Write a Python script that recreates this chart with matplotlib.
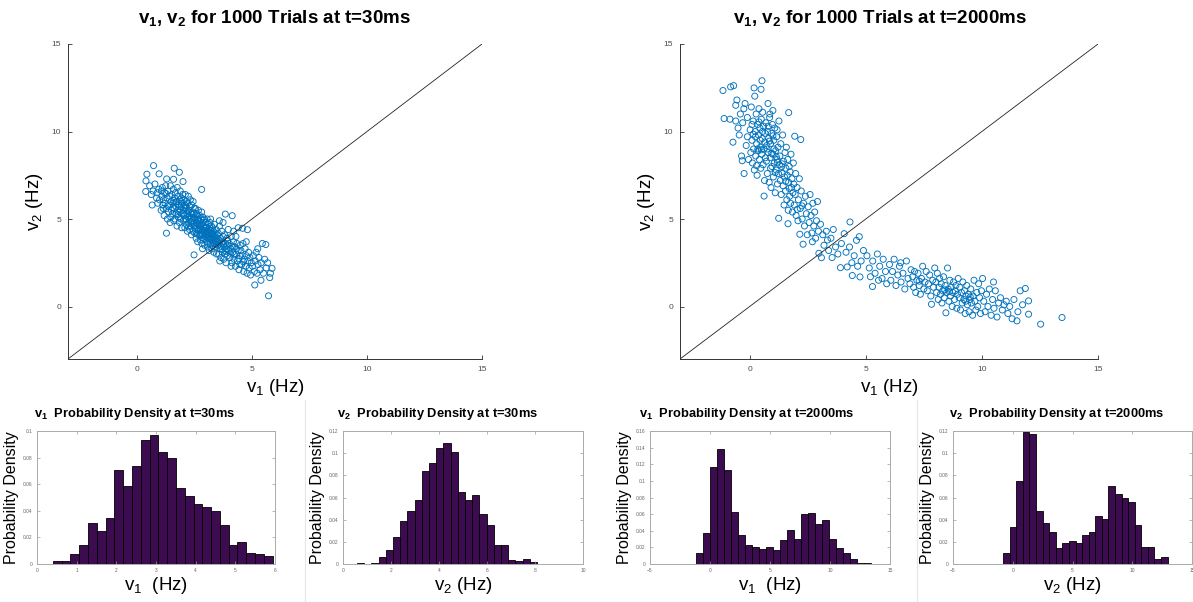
import matplotlib
matplotlib.use("Agg")
import matplotlib.pyplot as plt
import numpy as np
from matplotlib.lines import Line2D

plt.rcParams['font.family'] = ['Liberation Sans', 'DejaVu Sans']
plt.rcParams['mathtext.default'] = 'regular'

# ---------------- data ----------------
pts_30ms = [
    (0.72, 8.05), (0.43, 7.56), (0.39, 7.18), (0.38, 6.57), (0.96, 7.58), (1.62, 7.9), (1.84, 7.67),
    (1.59, 7.27), (1.29, 7.29), (2.0, 7.14), (2.81, 6.69), (1.28, 4.19), (2.48, 2.95),
    (0.55, 6.9), (0.62, 6.4), (0.7, 6.6), (0.78, 7.0), (0.85, 6.2), (0.9, 5.9), (0.95, 6.7), (0.98, 6.1),
    (0.66, 5.8), (0.88, 6.5),
    (1.05, 5.5), (1.08, 6.3), (1.1, 6.8), (1.12, 5.8), (1.15, 6.1), (1.18, 5.2), (1.2, 6.5), (1.22, 5.9),
    (1.25, 6.9), (1.27, 5.6), (1.3, 6.2), (1.32, 5.0), (1.35, 6.6), (1.37, 5.4), (1.4, 5.8), (1.42, 6.3),
    (1.45, 6.9), (1.47, 5.1), (1.48, 6.0), (1.5, 5.5), (1.14, 5.6), (1.33, 5.75), (1.44, 4.8), (1.26, 6.45),
    (1.06, 6.6),
    (1.52, 6.4), (1.54, 5.3), (1.56, 5.9), (1.58, 6.7), (1.6, 4.9), (1.62, 5.6), (1.63, 6.2), (1.65, 5.0),
    (1.67, 6.5), (1.69, 5.7), (1.7, 5.3), (1.72, 6.0), (1.74, 4.6), (1.75, 6.8), (1.77, 5.5), (1.79, 6.3),
    (1.8, 5.1), (1.82, 5.8), (1.84, 4.8), (1.85, 6.1), (1.87, 5.4), (1.88, 6.6), (1.9, 5.0), (1.91, 5.7),
    (1.93, 6.2), (1.94, 4.5), (1.96, 5.3), (1.97, 5.9), (1.99, 6.4), (1.55, 5.65), (1.68, 5.95), (1.78, 5.25),
    (1.86, 5.55), (1.92, 6.0), (1.6, 6.05),
    (2.01, 5.5), (2.02, 4.9), (2.04, 6.1), (2.05, 5.2), (2.07, 5.8), (2.08, 4.5), (2.1, 6.4), (2.11, 5.0),
    (2.13, 5.6), (2.14, 4.7), (2.16, 6.0), (2.17, 5.3), (2.19, 4.3), (2.2, 5.9), (2.22, 5.1), (2.23, 6.3),
    (2.25, 4.8), (2.26, 5.5), (2.28, 4.4), (2.29, 5.7), (2.31, 5.0), (2.32, 6.1), (2.34, 4.6), (2.35, 5.3),
    (2.37, 4.1), (2.38, 5.8), (2.4, 4.9), (2.41, 5.4), (2.43, 4.3), (2.44, 6.0), (2.46, 5.1), (2.47, 4.6),
    (2.49, 5.6), (2.03, 5.35), (2.09, 5.65), (2.15, 4.95), (2.21, 5.45), (2.27, 5.15), (2.33, 4.85),
    (2.39, 5.25), (2.45, 4.75), (2.12, 5.75), (2.24, 4.55), (2.36, 5.05), (2.48, 5.3),
    (2.51, 4.2), (2.52, 5.0), (2.54, 4.6), (2.55, 5.6), (2.57, 3.9), (2.58, 4.8), (2.6, 5.3), (2.61, 4.4),
    (2.63, 5.0), (2.64, 3.7), (2.66, 4.7), (2.67, 5.5), (2.69, 4.1), (2.7, 4.9), (2.72, 4.5), (2.73, 5.2),
    (2.75, 3.8), (2.76, 4.6), (2.78, 5.0), (2.79, 4.2), (2.81, 5.4), (2.82, 3.6), (2.84, 4.8), (2.85, 4.4),
    (2.87, 5.1), (2.88, 3.9), (2.9, 4.6), (2.91, 4.1), (2.93, 5.0), (2.94, 3.5), (2.96, 4.5), (2.97, 4.0),
    (2.99, 4.8), (2.53, 4.45), (2.59, 4.15), (2.62, 4.75), (2.68, 4.35), (2.71, 4.65), (2.74, 4.05),
    (2.77, 4.4), (2.8, 4.7), (2.83, 4.1), (2.86, 4.3), (2.89, 4.95), (2.92, 4.35), (2.95, 3.85), (2.98, 4.25),
    (2.65, 5.15), (2.56, 5.25), (2.85, 3.3),
    (3.01, 4.5), (3.02, 3.7), (3.04, 4.1), (3.05, 5.0), (3.07, 3.4), (3.08, 4.3), (3.1, 4.7), (3.11, 3.9),
    (3.13, 4.4), (3.14, 3.2), (3.16, 4.0), (3.17, 4.8), (3.19, 3.6), (3.2, 4.2), (3.22, 3.8), (3.23, 4.6),
    (3.25, 3.3), (3.26, 4.1), (3.28, 4.5), (3.29, 3.5), (3.31, 3.9), (3.32, 4.3), (3.34, 3.1), (3.35, 4.0),
    (3.37, 4.7), (3.38, 3.6), (3.4, 4.2), (3.41, 3.4), (3.43, 3.8), (3.44, 4.4), (3.46, 3.0), (3.47, 3.9),
    (3.49, 4.1), (3.03, 4.25), (3.06, 3.95), (3.09, 3.6), (3.12, 4.15), (3.15, 4.55), (3.18, 3.85),
    (3.21, 4.35), (3.24, 3.95), (3.27, 3.75), (3.3, 4.15), (3.33, 3.65), (3.36, 3.85), (3.39, 4.05),
    (3.42, 3.7), (3.45, 3.55), (3.48, 3.75), (3.2, 5.0),
    (3.51, 3.5), (3.53, 4.2), (3.55, 3.0), (3.57, 3.8), (3.59, 4.6), (3.61, 3.3), (3.63, 3.9), (3.65, 2.8),
    (3.67, 3.6), (3.69, 4.3), (3.71, 3.1), (3.73, 3.7), (3.75, 4.0), (3.77, 2.7), (3.79, 3.4), (3.81, 4.1),
    (3.83, 3.0), (3.85, 3.6), (3.87, 2.5), (3.89, 3.3), (3.91, 3.9), (3.93, 2.9), (3.95, 3.5), (3.97, 4.4),
    (3.99, 3.2), (3.54, 3.65), (3.62, 3.45), (3.7, 3.25), (3.78, 3.55), (3.86, 3.15), (3.94, 3.75),
    (3.6, 2.6), (3.84, 5.28), (3.74, 4.8), (3.58, 4.9),
    (4.01, 3.6), (4.04, 2.8), (4.07, 3.3), (4.1, 4.0), (4.13, 2.5), (4.16, 3.1), (4.19, 3.7), (4.22, 2.7),
    (4.25, 3.4), (4.28, 2.3), (4.31, 3.0), (4.34, 3.6), (4.37, 2.6), (4.4, 3.2), (4.43, 2.1), (4.46, 2.9),
    (4.49, 3.5), (4.14, 5.19), (4.4, 4.5), (4.2, 4.3), (4.05, 3.05), (4.15, 3.45), (4.24, 2.95), (4.33, 3.3),
    (4.42, 2.75), (4.3, 4.0), (4.09, 2.3), (4.47, 2.4),
    (4.52, 3.2), (4.55, 2.4), (4.58, 2.9), (4.61, 3.6), (4.64, 2.0), (4.67, 2.7), (4.7, 3.3), (4.73, 2.3),
    (4.76, 2.9), (4.79, 1.9), (4.82, 2.6), (4.85, 3.1), (4.88, 2.2), (4.91, 2.8), (4.94, 1.8), (4.97, 2.5),
    (4.59, 4.47), (4.8, 4.39), (4.63, 2.55), (4.75, 3.7),
    (5.02, 2.3), (5.06, 2.9), (5.1, 2.0), (5.14, 2.6), (5.18, 3.1), (5.22, 1.9), (5.26, 2.4), (5.3, 2.8),
    (5.35, 2.1), (5.4, 2.5), (5.45, 3.6), (5.6, 3.54), (5.5, 1.9), (5.55, 2.7), (5.62, 2.2), (5.87, 2.18),
    (5.77, 1.65), (5.39, 1.5), (5.12, 1.23), (5.72, 0.61), (5.68, 2.5), (5.8, 1.9), (5.25, 3.3),
]

pts_2000ms = [
    (-1.15, 12.34), (-0.82, 12.55), (-0.69, 12.62), (-1.1, 10.74), (-0.85, 10.7), (-0.72, 9.39), (-0.6, 11.5),
    (-0.55, 11.8), (-0.5, 10.2), (-0.45, 9.8), (-0.4, 11.0), (-0.35, 8.6), (-0.32, 8.33), (-0.24, 7.6),
    (-0.3, 10.5), (-0.2, 11.6), (-0.15, 9.2), (-0.1, 10.8), (-0.05, 8.4), (-0.6, 10.6), (-0.25, 11.3),
    (-0.1, 9.7),
    (0.02, 10.1), (0.05, 8.8), (0.07, 11.4), (0.1, 9.5), (0.12, 8.2), (0.15, 10.6), (0.17, 9.0), (0.19, 12.49),
    (0.22, 12.02), (0.2, 7.8), (0.24, 10.0), (0.26, 8.6), (0.28, 11.0), (0.3, 9.3), (0.32, 7.5), (0.34, 10.4),
    (0.36, 8.9), (0.38, 9.8), (0.4, 11.3), (0.42, 8.4), (0.44, 10.2), (0.46, 9.1), (0.48, 7.9), (0.49, 12.41),
    (0.53, 12.9), (0.5, 10.7), (0.52, 8.7), (0.54, 9.6), (0.56, 11.1), (0.58, 8.1), (0.6, 10.3), (0.62, 9.0),
    (0.64, 7.2), (0.66, 9.9), (0.68, 8.5), (0.62, 6.31), (0.1, 10.4), (0.25, 9.7), (0.35, 9.0), (0.45, 9.5),
    (0.55, 10.0), (0.65, 9.4), (0.15, 9.85), (0.3, 8.05), (0.5, 8.95), (0.4, 10.55),
    (0.7, 10.5), (0.72, 8.3), (0.74, 9.2), (0.76, 7.6), (0.78, 10.0), (0.79, 11.6), (0.8, 8.8), (0.82, 9.6),
    (0.84, 7.1), (0.86, 10.8), (0.88, 8.5), (0.9, 9.3), (0.92, 6.8), (0.94, 9.9), (0.96, 8.0), (0.98, 10.4),
    (1.0, 8.7), (1.02, 7.4), (1.04, 9.5), (1.06, 8.2), (1.08, 10.2), (1.1, 6.5), (1.12, 8.9), (1.14, 7.8),
    (1.16, 9.7), (1.18, 8.4), (1.2, 7.0), (1.22, 9.1), (1.24, 7.6), (1.26, 10.6), (1.28, 8.1), (1.25, 5.04),
    (0.75, 9.0), (0.85, 9.45), (0.95, 8.75), (1.05, 9.0), (1.15, 8.55), (0.8, 10.3), (0.9, 7.9), (1.0, 9.75),
    (1.1, 7.65), (1.2, 8.25), (1.0, 11.2), (0.87, 11.0), (1.18, 10.1),
    (1.3, 8.6), (1.32, 7.2), (1.34, 9.3), (1.36, 6.4), (1.38, 8.0), (1.4, 7.6), (1.42, 9.8), (1.44, 6.9),
    (1.46, 8.3), (1.48, 5.8), (1.5, 7.4), (1.52, 8.8), (1.54, 6.6), (1.56, 7.9), (1.58, 9.1), (1.6, 6.1),
    (1.62, 7.5), (1.64, 8.4), (1.65, 4.73), (1.66, 5.5), (1.68, 11.08), (1.68, 7.1), (1.7, 8.0), (1.72, 6.3),
    (1.74, 7.7), (1.76, 5.9), (1.78, 8.7), (1.8, 6.8), (1.82, 7.3), (1.84, 5.4), (1.86, 6.5), (1.88, 8.2),
    (1.4, 8.15), (1.55, 7.15), (1.7, 6.75),
    (1.9, 7.0), (1.92, 5.8), (1.94, 9.73), (1.96, 6.4), (1.98, 7.6), (2.0, 5.2), (2.04, 6.8), (2.08, 4.9),
    (2.1, 6.1), (2.14, 7.3), (2.16, 4.13), (2.18, 5.6), (2.2, 9.54), (2.22, 6.6), (2.26, 5.0), (2.3, 3.56),
    (2.32, 5.9), (2.36, 4.6), (2.4, 6.3), (2.44, 5.3), (2.48, 4.1), (2.05, 5.55), (2.25, 5.75),
    (2.52, 5.7), (2.56, 4.8), (2.6, 6.4), (2.64, 5.2), (2.68, 4.2), (2.72, 5.9), (2.76, 4.6), (2.8, 5.4),
    (2.84, 3.9), (2.88, 4.9), (2.92, 6.0), (2.96, 4.3), (2.98, 3.04), (3.05, 4.7), (2.7, 3.7),
    (3.09, 2.79), (3.15, 4.1), (3.2, 3.5), (3.3, 4.3), (3.4, 3.2), (3.5, 3.9), (3.55, 2.8), (3.6, 4.4),
    (3.7, 3.4), (3.8, 3.0), (3.91, 2.22), (3.95, 3.6), (3.35, 3.8),
    (4.07, 4.16), (4.2, 2.26), (4.15, 3.1), (4.3, 3.4), (4.32, 4.83), (4.42, 1.77), (4.5, 2.9), (4.6, 3.78),
    (4.72, 3.99), (4.75, 1.69), (4.8, 2.6), (4.9, 3.2), (4.4, 2.5), (4.65, 2.3),
    (5.05, 2.9), (5.15, 2.2), (5.29, 1.14), (5.3, 2.6), (5.4, 1.9), (5.5, 3.0), (5.6, 2.3), (5.7, 1.6),
    (5.75, 2.7), (5.85, 2.0), (5.9, 1.3), (5.2, 1.7), (5.55, 1.5),
    (6.02, 2.4), (6.08, 1.5), (6.15, 2.0), (6.22, 2.7), (6.3, 1.2), (6.38, 1.8), (6.45, 2.3), (6.52, 1.4),
    (6.6, 1.9), (6.68, 1.0), (6.75, 2.6), (6.82, 1.6), (6.9, 1.3), (6.95, 2.1), (6.5, 2.5),
    (7.02, 1.7), (7.06, 1.1), (7.1, 2.0), (7.15, 0.8), (7.2, 1.5), (7.25, 1.9), (7.3, 1.2), (7.35, 0.7),
    (7.4, 1.6), (7.45, 2.3), (7.5, 1.0), (7.55, 1.4), (7.6, 2.0), (7.65, 0.9), (7.7, 1.3), (7.75, 1.8),
    (7.8, 0.6), (7.83, 0.13), (7.88, 1.5), (7.92, 1.1), (7.97, 2.2), (7.3, 1.45),
    (8.02, 1.4), (8.05, 0.8), (8.08, 1.9), (8.12, 0.4), (8.15, 1.1), (8.18, 1.6), (8.22, 0.7), (8.25, 1.3),
    (8.28, 0.2), (8.32, 0.9), (8.35, 1.7), (8.38, 0.5), (8.42, 1.2), (8.45, -0.36), (8.48, 0.8), (8.52, 2.2),
    (8.55, 1.0), (8.58, 0.3), (8.62, 1.5), (8.65, 0.6), (8.68, 1.1), (8.72, 0.0), (8.75, 0.8), (8.78, 1.4),
    (8.82, 0.4), (8.85, 0.9), (8.88, 1.2), (8.92, -0.1), (8.95, 0.7), (8.98, 1.6), (8.4, 0.95), (8.6, 0.85),
    (9.02, 0.5), (9.05, 1.1), (9.08, -0.2), (9.12, 0.8), (9.15, 0.2), (9.18, 1.4), (9.22, 0.4), (9.25, 0.9),
    (9.28, -0.4), (9.32, 0.6), (9.35, 1.2), (9.38, 0.1), (9.42, 0.7), (9.45, -0.3), (9.48, 0.4), (9.52, 1.0),
    (9.55, 0.2), (9.6, -0.5), (9.62, 0.6), (9.66, 1.5), (9.7, 0.3), (9.74, -0.2), (9.78, 0.8), (9.82, 0.0),
    (9.86, 1.3), (9.9, 0.5), (9.94, -0.4), (9.98, 0.9), (9.5, 0.55), (9.3, 0.3),
    (10.03, 1.6), (10.08, 0.3), (10.14, -0.3), (10.2, 0.7), (10.26, 0.0), (10.32, 1.0), (10.4, -0.5),
    (10.46, 0.4), (10.52, -0.1), (10.58, 0.9), (10.65, -0.6), (10.72, 0.2), (10.8, 0.5), (10.88, -0.2),
    (10.95, 0.1), (10.5, 1.4),
    (11.05, 0.3), (11.12, -0.4), (11.2, 0.0), (11.3, -0.7), (11.38, 0.4), (11.51, -0.82), (11.55, -0.3),
    (11.65, 0.9), (11.87, 1.03), (12.01, 0.32), (12.01, -0.44), (12.53, -1.01), (13.45, -0.63), (11.75, 0.1),
]

# histogram densities (25 bins each) with bin ranges
h1_range = (0.40, 5.94)
h1_density = [0.0025, 0.0025, 0.0075, 0.014, 0.0305, 0.025, 0.0345, 0.0705, 0.059, 0.0735, 0.0935, 0.097,
              0.0845, 0.0795, 0.0575, 0.0515, 0.045, 0.043, 0.0395, 0.029, 0.014, 0.0165, 0.0085, 0.0075, 0.006]
h2_range = (0.58, 8.08)
h2_density = [0.001, 0.0, 0.001, 0.0066, 0.0126, 0.024, 0.039, 0.0477, 0.0576, 0.0843, 0.091, 0.105, 0.109,
              0.1014, 0.0648, 0.0576, 0.0624, 0.0447, 0.0354, 0.0174, 0.0174, 0.0033, 0.0024, 0.0045, 0.0018]
h3_range = (-1.14, 13.40)
h3_density = [0.0128, 0.0368, 0.1168, 0.1384, 0.1128, 0.0624, 0.0348, 0.0224, 0.0208, 0.0176, 0.0204, 0.0168,
              0.0284, 0.0408, 0.0296, 0.060, 0.0608, 0.048, 0.0528, 0.0296, 0.0192, 0.0136, 0.006, 0.0016, 0.0016]
h4_range = (-0.80, 12.96)
h4_density = [0.0102, 0.033, 0.075, 0.1195, 0.117, 0.048, 0.0372, 0.0288, 0.0144, 0.0192, 0.0204, 0.0192,
              0.0264, 0.0288, 0.0432, 0.0408, 0.0702, 0.063, 0.060, 0.0558, 0.0354, 0.0156, 0.015, 0.0042, 0.0063]

scatter_titles = ['v$_1$, v$_2$ for 1000 Trials at t=30ms', 'v$_1$, v$_2$ for 1000 Trials at t=2000ms']
hist_titles = ['v$_1$  Probability Density at t=30ms', 'v$_2$  Probability Density at t=30ms',
               'v$_1$  Probability Density at t=2000ms', 'v$_2$  Probability Density at t=2000ms']
hist_xlabels = ['v$_1$  (Hz)', 'v$_2$ (Hz)', 'v$_1$  (Hz)', 'v$_2$ (Hz)']

# ---------------- figure ----------------
W, H = 1193, 602
fig = plt.figure(figsize=(W / 100, H / 100), dpi=100)

def ax_px(l, t, r, b):
    return fig.add_axes([l / W, 1 - b / H, (r - l) / W, (b - t) / H])

blue = '#0072BD'
tickgray = '#4d4d4d'

for (l, r, cx), pts, title in zip([(68, 482, 275), (680, 1098, 880)], [pts_30ms, pts_2000ms], scatter_titles):
    ax = ax_px(l, 44, r, 359)
    xs = [p[0] for p in pts]
    ys = [p[1] for p in pts]
    ax.plot([-3, 15], [-3, 15], color='#222222', lw=0.6)
    ax.scatter(xs, ys, s=19, facecolors='none', edgecolors=blue, linewidths=0.65)
    ax.set_xlim(-3, 15)
    ax.set_ylim(-3, 15)
    ax.set_xticks([0, 5, 10, 15])
    ax.set_yticks([0, 5, 10, 15])
    for s in ['top', 'right']:
        ax.spines[s].set_visible(False)
    for s in ['left', 'bottom']:
        ax.spines[s].set_color('#333333')
        ax.spines[s].set_linewidth(0.7)
    ax.tick_params(direction='in', length=3, width=0.6, labelsize=6, colors='#333333', labelcolor=tickgray, pad=5)
    fig.text(cx / W, 1 - 18 / H, title, ha='center', va='center', fontsize=13.5, fontweight='bold')
    ax.set_xlabel('v$_1$ (Hz)', fontsize=13.5, labelpad=3)
    ax.set_ylabel('v$_2$ (Hz)', fontsize=13.5, labelpad=5)

hist_specs = [
    ((37, 275), h1_range, h1_density, (0, 6), list(range(0, 7)), (0, 0.1), [0, 0.02, 0.04, 0.06, 0.08, 0.1], 135),
    ((343, 583), h2_range, h2_density, (0, 10), [0, 2, 4, 6, 8, 10], (0, 0.12), [0, 0.02, 0.04, 0.06, 0.08, 0.1, 0.12], 438),
    ((650, 890), h3_range, h3_density, (-5, 15), [-5, 0, 5, 10, 15], (0, 0.16), [0, 0.02, 0.04, 0.06, 0.08, 0.1, 0.12, 0.14, 0.16], 747),
    ((953, 1192), h4_range, h4_density, (-5, 15), [-5, 0, 5, 10, 15], (0, 0.12), [0, 0.02, 0.04, 0.06, 0.08, 0.1, 0.12], 1057),
]

for (xl, xr), rng, dens, xlim, xt, ylim, yt, tcx in hist_specs:
    hax = ax_px(xl, 431, xr, 564)
    edges = np.linspace(rng[0], rng[1], len(dens) + 1)
    hax.bar(edges[:-1], dens, width=np.diff(edges), align='edge', color='#3d0b4f',
            edgecolor='black', linewidth=0.6)
    hax.set_xlim(*xlim)
    hax.set_ylim(*ylim)
    hax.set_xticks(xt)
    hax.set_yticks(yt)
    hax.set_yticklabels([('%g' % v) for v in yt])
    for s in hax.spines.values():
        s.set_color('#aaaaaa')
        s.set_linewidth(0.7)
    hax.tick_params(direction='in', length=2, width=0.5, labelsize=3.5, colors='#999999',
                    labelcolor='#666666', top=True, right=True, pad=3)
    hax.set_ylabel('Probability Density', fontsize=11.5, labelpad=3)

for (xl, xr), title, xlab, spec in zip([(37, 275), (343, 583), (650, 890), (953, 1192)],
                                       hist_titles, hist_xlabels, hist_specs):
    tcx = spec[-1]
    fig.text(tcx / W, 1 - 414 / H, title, ha='center', va='center', fontsize=9.3, fontweight='bold')
    fig.text((xl + xr) / 2 / W, 1 - 586 / H, xlab, ha='center', va='center', fontsize=13.5)

for xsep in [305, 917]:
    fig.add_artist(Line2D([xsep / W, xsep / W], [0, 1 - 400 / H], color='#e6e6e6', lw=0.8))

fig.savefig('out.png', dpi=100, facecolor='white')
